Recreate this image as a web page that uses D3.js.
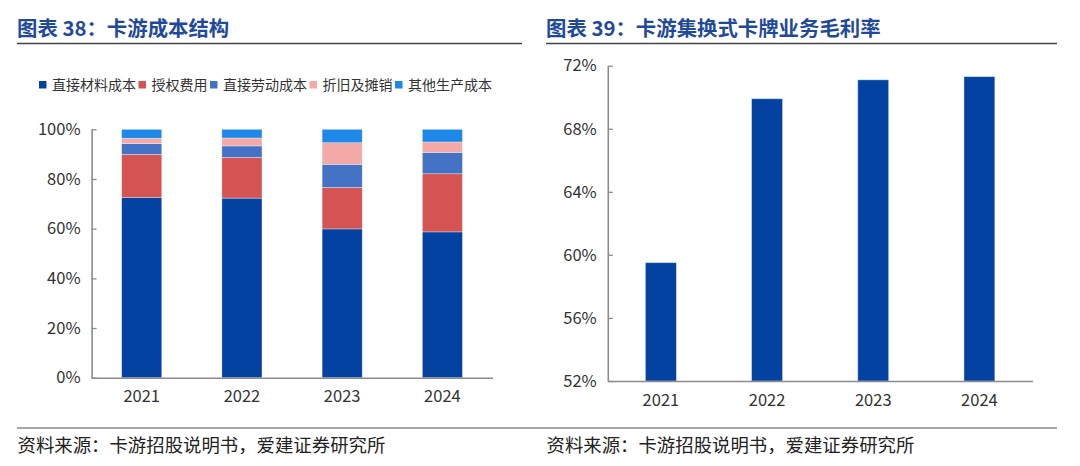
<!DOCTYPE html>
<html><head><meta charset="utf-8">
<script src="https://cdn.jsdelivr.net/npm/d3@7"></script>
<style>
html,body{margin:0;padding:0;background:#fff;}
svg{display:block;font-family:"Noto Sans CJK SC","Microsoft YaHei",sans-serif;}
</style></head>
<body>
<svg id="c" width="1080" height="466"></svg>
<script>
// ---- data ----
const years = ["2021","2022","2023","2024"];
const seriesNames = ["直接材料成本","授权费用","直接劳动成本","折旧及摊销","其他生产成本"];
const material = [72.6, 72.3, 59.9, 58.7];
const license  = [17.3, 16.4, 16.7, 23.4];
const labor    = [4.3, 4.6, 9.3, 8.6];
const deprec   = [2.2, 3.2, 8.7, 4.2];
const other    = [3.6, 3.5, 5.4, 5.1];
const costTicks = [0,20,40,60,80,100];
const grossMargin = [59.5, 69.9, 71.1, 71.3];
const marginTicks = [52,56,60,64,68,72];
const title1 = "图表 38：卡游成本结构";
const title2 = "图表 39：卡游集换式卡牌业务毛利率";
const source = "资料来源：卡游招股说明书，爱建证券研究所";

const colors = ["#0442A2","#D45454","#4472C4","#F4A9A9","#1E88E8"];
const svg = d3.select("#c");
const axisCol = "#8c8c8c", textCol = "#333";

// ---- titles ----
function header(x, x2, t){
  svg.append("text").attr("x",x).attr("y",36).attr("fill","#1F4A9C")
    .attr("font-size",20.4).attr("font-weight","bold").text(t);
  svg.append("line").attr("x1",x).attr("x2",x2).attr("y1",43.5).attr("y2",43.5)
    .attr("stroke","#444").attr("stroke-width",1.6);
}
header(17, 522, title1);
header(546, 1057, title2);

// footer
svg.append("line").attr("x1",17).attr("x2",1057).attr("y1",428).attr("y2",428)
  .attr("stroke","#8a8a8a").attr("stroke-width",1.4);
[17.5, 546.5].forEach(x=>{
  svg.append("text").attr("x",x).attr("y",452).attr("fill","#222")
    .attr("font-size",18.4).text(source);
});

// ---- left chart: stacked ----
const rows = years.map((y,i)=>({year:y, s0:material[i], s1:license[i], s2:labor[i], s3:deprec[i], s4:other[i]}));
const keys = ["s0","s1","s2","s3","s4"];
const stack = d3.stack().keys(keys)(rows);

const x1 = d3.scaleBand().domain(years).range([91.6, 492.5]).paddingInner(0.6).paddingOuter(0.3);
const y1 = d3.scaleLinear().domain([0,100]).range([377.7, 129.3]);

const g1 = svg.append("g");
stack.forEach((layer,k)=>{
  g1.append("g").selectAll("rect").data(layer).enter().append("rect")
    .attr("x", d=>x1(d.data.year)).attr("width", x1.bandwidth())
    .attr("y", d=>y1(d[1])).attr("height", d=>y1(d[0])-y1(d[1]))
    .attr("fill", colors[k]).attr("stroke","rgba(255,255,255,0.55)").attr("stroke-width",0.6);
});

g1.append("g").attr("transform","translate(91.6,0)")
  .call(d3.axisLeft(y1).tickValues(costTicks).tickFormat(d=>d+"%").tickSizeInner(-5).tickSizeOuter(0).tickPadding(11));
g1.append("g").attr("transform","translate(0,377.7)")
  .call(d3.axisBottom(x1).tickSize(0).tickPadding(13));

// legend
const lg = svg.append("g");
let lx = 39;
seriesNames.forEach((n,i)=>{
  lg.append("rect").attr("x",lx).attr("y",81).attr("width",7.5).attr("height",7.5).attr("fill",colors[i]);
  const t = lg.append("text").attr("x",lx+13).attr("y",90).attr("font-size",14).attr("fill","#333").text(n);
  lx = lx + 13 + t.node().getComputedTextLength() + 2.5;
});

// ---- right chart ----
const x2 = d3.scaleBand().domain(years).range([607.8, 1032.5]).paddingInner(0.71).paddingOuter(0.355);
const y2 = d3.scaleLinear().domain([52,72]).range([381, 65.7]);
const g2 = svg.append("g");
g2.selectAll("rect").data(grossMargin).enter().append("rect")
  .attr("x",(d,i)=>x2(years[i])).attr("width",x2.bandwidth())
  .attr("y",d=>y2(d)).attr("height",d=>y2(52)-y2(d))
  .attr("fill",colors[0]).attr("stroke","rgba(200,215,240,0.7)").attr("stroke-width",0.6);
g2.append("g").attr("transform","translate(607.8,0)")
  .call(d3.axisLeft(y2).tickValues(marginTicks).tickFormat(d=>d+"%").tickSizeInner(-5).tickSizeOuter(0).tickPadding(11));
g2.append("g").attr("transform","translate(0,381)")
  .call(d3.axisBottom(x2).tickSize(0).tickPadding(13));

// axis styling
svg.selectAll(".domain").attr("stroke",axisCol).attr("stroke-width",1.6);
svg.selectAll(".tick line").attr("stroke",axisCol).attr("stroke-width",1.3);
svg.selectAll(".tick text").attr("fill",textCol).attr("font-size",16.5)
  .attr("font-family",'"Noto Sans CJK SC","Microsoft YaHei",sans-serif');
</script>
</body></html>
